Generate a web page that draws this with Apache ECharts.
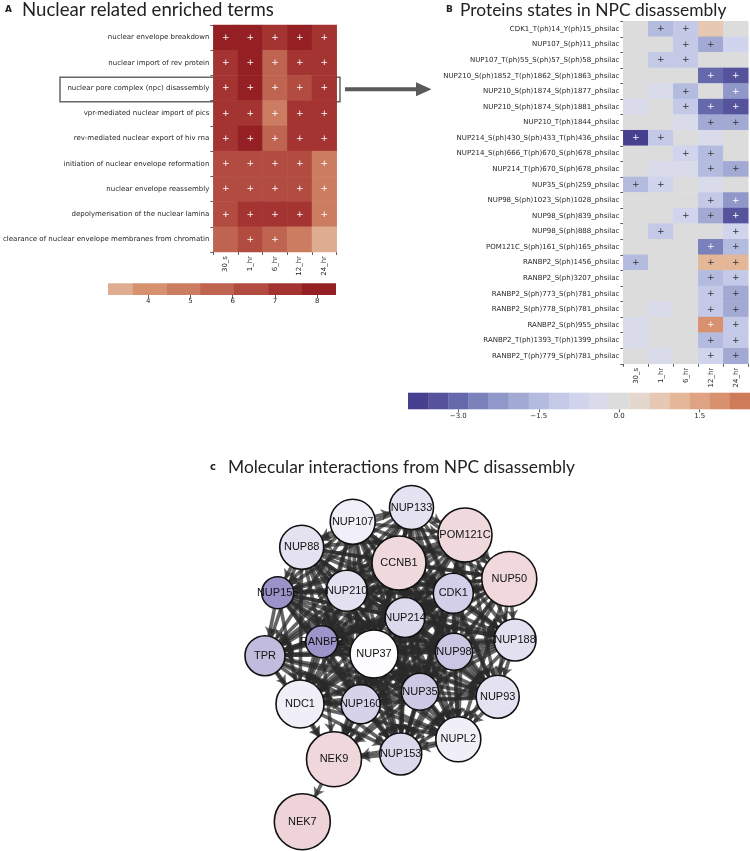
<!DOCTYPE html>
<html>
<head>
<meta charset="utf-8">
<title>npc disassembly</title>
<style>
    body {
        margin: 0;
        background-color: #fff;
    }
</style>
</head>
<body>
<div id="main" style="width: 750px;height:851px;"></div>
<script src="https://cdn.jsdelivr.net/npm/echarts@6/dist/echarts.min.js"></script>
<script>
    var myChart = echarts.init(document.getElementById('main'));

    var timePoints = ['30_s', '1_hr', '6_hr', '12_hr', '24_hr'];

    // panel A - enriched terms
    var termsA = [
        'nuclear envelope breakdown',
        'nuclear import of rev protein',
        'nuclear pore complex (npc) disassembly',
        'vpr-mediated nuclear import of pics',
        'rev-mediated nuclear export of hiv rna',
        'initiation of nuclear envelope reformation',
        'nuclear envelope reassembly',
        'depolymerisation of the nuclear lamina',
        'clearance of nuclear envelope membranes from chromatin'
    ];
    var scoreA = [
        [7.9, 7.9, 7.2, 8.1, 7.2],
        [7.2, 8.0, 5.6, 7.2, 7.2],
        [7.0, 8.0, 5.9, 6.4, 7.2],
        [7.0, 7.0, 4.9, 7.2, 7.2],
        [7.0, 8.0, 5.6, 7.2, 7.2],
        [6.4, 6.4, 6.4, 6.4, 4.9],
        [6.4, 6.4, 6.4, 6.4, 4.9],
        [6.4, 7.2, 7.2, 7.2, 4.9],
        [5.6, 6.4, 5.6, 4.9, 3.4]
    ];
    var plusA = [
        [1, 1, 1, 1, 1],
        [1, 1, 1, 1, 1],
        [1, 1, 1, 1, 1],
        [1, 1, 1, 1, 1],
        [1, 1, 1, 1, 1],
        [1, 1, 1, 1, 1],
        [1, 1, 1, 1, 1],
        [1, 1, 1, 1, 1],
        [0, 1, 1, 0, 0]
    ];
    var breaksA = [3.05, 3.63, 4.43, 5.23, 6.03, 6.84, 7.64, 8.44];
    var coloursA = ['#deac91', '#d6916f', '#cc7c60', '#be6450', '#b24b40', '#a43432', '#942024'];
    var ticksA = [4, 5, 6, 7, 8];

    // panel B - phosphosite states
    var sitesB = [
        'CDK1_T(ph)14_Y(ph)15_phsilac',
        'NUP107_S(ph)11_phsilac',
        'NUP107_T(ph)55_S(ph)57_S(ph)58_phsilac',
        'NUP210_S(ph)1852_T(ph)1862_S(ph)1863_phsilac',
        'NUP210_S(ph)1874_S(ph)1877_phsilac',
        'NUP210_S(ph)1874_S(ph)1881_phsilac',
        'NUP210_T(ph)1844_phsilac',
        'NUP214_S(ph)430_S(ph)433_T(ph)436_phsilac',
        'NUP214_S(ph)666_T(ph)670_S(ph)678_phsilac',
        'NUP214_T(ph)670_S(ph)678_phsilac',
        'NUP35_S(ph)259_phsilac',
        'NUP98_S(ph)1023_S(ph)1028_phsilac',
        'NUP98_S(ph)839_phsilac',
        'NUP98_S(ph)888_phsilac',
        'POM121C_S(ph)161_S(ph)165_phsilac',
        'RANBP2_S(ph)1456_phsilac',
        'RANBP2_S(ph)3207_phsilac',
        'RANBP2_S(ph)773_S(ph)781_phsilac',
        'RANBP2_S(ph)778_S(ph)781_phsilac',
        'RANBP2_S(ph)955_phsilac',
        'RANBP2_T(ph)1393_T(ph)1399_phsilac',
        'RANBP2_T(ph)779_S(ph)781_phsilac'
    ];
    var foldB = [
        [0, -1.5, -1.1, 0.75, 0],
        [0, 0, -1.1, -1.9, -0.75],
        [0, -1.1, -1.1, 0, 0],
        [0, 0, 0, -3.0, -3.4],
        [0, -0.4, -1.5, 0, -2.25],
        [-0.4, 0, -1.1, -3.0, -3.4],
        [0, 0, -0.4, -1.9, -1.9],
        [-3.75, -1.1, 0, -0.4, 0],
        [0, 0, -0.75, -1.5, 0],
        [0, -0.4, -0.4, -1.5, -1.9],
        [-1.5, -0.75, 0, -0.4, 0],
        [0, 0, 0, -1.1, -2.25],
        [0, 0, -0.75, -1.9, -3.4],
        [0, -1.1, 0, 0, -0.75],
        [0, 0, 0, -2.6, -1.5],
        [-1.5, 0, 0, 1.1, 1.1],
        [0, 0, 0, -1.5, -1.1],
        [0, 0, 0, -1.1, -1.9],
        [0, -0.4, 0, -1.1, -1.9],
        [-0.4, 0, 0, 1.9, -1.1],
        [-0.4, 0, 0, -1.5, -1.1],
        [0, -0.4, 0, -0.75, -1.9]
    ];
    var plusB = [
        [0, 1, 1, 0, 0],
        [0, 0, 1, 1, 0],
        [0, 1, 1, 0, 0],
        [0, 0, 0, 1, 1],
        [0, 0, 1, 0, 1],
        [0, 0, 1, 1, 1],
        [0, 0, 0, 1, 1],
        [1, 1, 0, 0, 0],
        [0, 0, 1, 1, 0],
        [0, 0, 0, 1, 1],
        [1, 1, 0, 0, 0],
        [0, 0, 0, 1, 1],
        [0, 0, 1, 1, 1],
        [0, 1, 0, 0, 1],
        [0, 0, 0, 1, 1],
        [1, 0, 0, 1, 1],
        [0, 0, 0, 1, 1],
        [0, 0, 0, 1, 1],
        [0, 0, 0, 1, 1],
        [0, 0, 0, 1, 1],
        [0, 0, 0, 1, 1],
        [0, 0, 0, 1, 1]
    ];
    var breaksB = [-3.9375, -3.5625, -3.1875, -2.8125, -2.4375, -2.0625, -1.6875, -1.3125, -0.9375,
        -0.5625, -0.1875, 0.1875, 0.5625, 0.9375, 1.3125, 1.6875, 2.0625, 2.4375];
    var coloursB = ['#473f8f', '#54539c', '#6568aa', '#7a81bb', '#8f98c9', '#a2aad4', '#b3bcdf', '#c3c9e6',
        '#d0d4ec', '#d9dbeb', '#dcdcdc', '#e4d7cd', '#e6c8b3', '#e4b799', '#dfa383', '#d8906f', '#cf7a58'];
    var ticksB = [-3, -1.5, 0, 1.5];

    // panel C - interaction network
    var proteins = ['NUP107', 'NUP133', 'POM121C', 'NUP88', 'CCNB1', 'NUP50', 'NUP155', 'NUP210', 'CDK1',
        'NUP214', 'NUP188', 'RANBP2', 'NUP37', 'NUP98', 'TPR', 'NUP35', 'NUP93', 'NDC1', 'NUP160',
        'NUPL2', 'NUP153', 'NEK9', 'NEK7'];
    var proteinXY = [
        [352.7, 521.7], [411.5, 507.5], [465, 535], [301.7, 547.3], [399, 563], [509.3, 579],
        [277.7, 592.7], [346.7, 590.7], [453.3, 593.3], [405, 617.5], [515, 640], [321.7, 641.7],
        [374, 654], [454, 651.7], [265, 655.7], [420, 691.7], [497.7, 696.7], [300, 704],
        [360.7, 704.3], [458.3, 739.3], [400.7, 754], [334, 759.3], [302.3, 821.7]
    ];
    var proteinSize = [45, 44, 54, 44, 54, 55, 32, 41, 40, 40, 42, 32, 48, 37, 40, 37, 43, 48, 39, 45, 42, 55, 56];
    var proteinColour = ['#f1f0f8', '#e5e3f1', '#f0d9dd', '#e4e2f0', '#f0d9dd', '#f0d8dc', '#9a92c9',
        '#e3e1f0', '#d3cfe8', '#dcd9ec', '#e3e1f0', '#9d95c9', '#fdfdff', '#cbc6e3', '#c1bcdd',
        '#cdc8e4', '#e4e2f0', '#f0eff7', '#d6d2e9', '#f0eff7', '#dcd9ec', '#efd7db', '#eed4d8'];
    var interactions = {
        NUP107: 'NUP133 POM121C NUP88 CCNB1 NUP50 NUP155 NUP210 CDK1 NUP214 NUP188 RANBP2 NUP37 NUP98 TPR NUP35 NUP93 NDC1 NUP160 NUPL2 NUP153',
        NUP133: 'POM121C NUP88 CCNB1 NUP50 NUP155 NUP210 CDK1 NUP214 NUP188 RANBP2 NUP37 NUP98 TPR NUP35 NUP93 NDC1 NUP160 NUPL2 NUP153',
        POM121C: 'NUP88 CCNB1 NUP50 NUP155 NUP210 CDK1 NUP214 NUP188 RANBP2 NUP37 NUP98 TPR NUP35 NUP93 NDC1 NUP160 NUPL2 NUP153',
        NUP88: 'CCNB1 NUP50 NUP155 NUP210 CDK1 NUP214 NUP188 RANBP2 NUP37 NUP98 TPR NUP35 NUP93 NDC1 NUP160 NUPL2 NUP153',
        CCNB1: 'NUP50 NUP155 NUP210 CDK1 NUP214 NUP188 RANBP2 NUP37 NUP98 TPR NUP35 NUP93 NDC1 NUP160 NUPL2 NUP153 NEK9',
        NUP50: 'NUP155 NUP210 CDK1 NUP214 NUP188 RANBP2 NUP37 NUP98 TPR NUP35 NUP93 NDC1 NUP160 NUPL2 NUP153',
        NUP155: 'NUP210 CDK1 NUP214 NUP188 RANBP2 NUP37 NUP98 TPR NUP35 NUP93 NDC1 NUP160 NUPL2 NUP153',
        NUP210: 'CDK1 NUP214 NUP188 RANBP2 NUP37 NUP98 TPR NUP35 NUP93 NDC1 NUP160 NUPL2 NUP153',
        CDK1: 'NUP214 NUP188 RANBP2 NUP37 NUP98 TPR NUP35 NUP93 NDC1 NUP160 NUPL2 NUP153 NEK9',
        NUP214: 'NUP188 RANBP2 NUP37 NUP98 TPR NUP35 NUP93 NDC1 NUP160 NUPL2 NUP153 NEK9',
        NUP188: 'RANBP2 NUP37 NUP98 TPR NUP35 NUP93 NDC1 NUP160 NUPL2 NUP153',
        RANBP2: 'NUP37 NUP98 TPR NUP35 NUP93 NDC1 NUP160 NUPL2 NUP153 NEK9',
        NUP37: 'NUP98 TPR NUP35 NUP93 NDC1 NUP160 NUPL2 NUP153 NEK9',
        NUP98: 'TPR NUP35 NUP93 NDC1 NUP160 NUPL2 NUP153 NEK9',
        TPR: 'NUP35 NUP93 NDC1 NUP160 NUPL2 NUP153 NEK9',
        NUP35: 'NUP93 NDC1 NUP160 NUPL2 NUP153 NEK9',
        NUP93: 'NDC1 NUP160 NUPL2 NUP153',
        NDC1: 'NUP160 NUPL2 NUP153 NEK9',
        NUP160: 'NUPL2 NUP153 NEK9',
        NUPL2: 'NUP153 NEK9',
        NUP153: 'NEK9',
        NEK9: 'NEK7'
    };

    var labelFont = 'DejaVu Sans';

    function heatData(values, plus, lightPlus) {
        var out = [];
        values.forEach(function (row, i) {
            row.forEach(function (v, j) {
                out.push({
                    value: [j, i, v],
                    label: {
                        show: plus[i][j] === 1,
                        color: lightPlus(v) ? '#ffffff' : '#333333'
                    }
                });
            });
        });
        return out;
    }

    function barData(breaks, colours) {
        return colours.map(function (c, i) {
            return { value: [breaks[i], breaks[i + 1]], itemStyle: { color: c } };
        });
    }

    function pieces(breaks, colours) {
        return colours.map(function (c, i) {
            return { gte: breaks[i], lt: breaks[i + 1], color: c };
        });
    }

    function renderPiece(params, api) {
        var p0 = api.coord([api.value(0), 1]);
        var p1 = api.coord([api.value(1), 0]);
        return {
            type: 'rect',
            shape: { x: p0[0], y: p0[1], width: p1[0] - p0[0] + 0.3, height: p1[1] - p0[1] },
            style: { fill: api.visual('color') }
        };
    }

    var nodes = proteins.map(function (p, i) {
        return {
            name: p,
            value: proteinXY[i],
            symbolSize: proteinSize[i],
            itemStyle: { color: proteinColour[i] }
        };
    });
    var links = [];
    Object.keys(interactions).forEach(function (src) {
        interactions[src].split(' ').forEach(function (tgt) {
            links.push({ source: src, target: tgt });
        });
    });

    var catAxis = function (grid, data, isY, extra) {
        var ax = {
            type: 'category',
            gridIndex: grid,
            data: data,
            axisLine: { show: false },
            axisTick: { show: true, length: 3, lineStyle: { color: '#333', width: 0.8 } },
            axisLabel: { fontFamily: labelFont, fontSize: 7, color: '#262626', margin: 4 },
            splitLine: { show: false }
        };
        if (isY) {
            ax.inverse = true;
        } else {
            ax.position = 'bottom';
            ax.axisLabel.rotate = 90;
        }
        return Object.assign(ax, extra || {});
    };

    var barAxis = function (grid, min, max, ticks, fmt) {
        return {
            type: 'value',
            gridIndex: grid,
            min: min,
            max: max,
            axisLine: { show: false },
            splitLine: { show: false },
            axisTick: { show: true, length: 3, customValues: ticks, lineStyle: { color: '#333', width: 0.8 } },
            axisLabel: { customValues: ticks, fontFamily: labelFont, fontSize: 7, color: '#262626', margin: 3, formatter: fmt }
        };
    };

    var hiddenY = function (grid) {
        return { type: 'value', gridIndex: grid, min: 0, max: 1, show: false };
    };

    option = {
        backgroundColor: '#ffffff',
        animation: false,
        grid: [
            { left: 211.7, top: 25, width: 125, height: 227 },
            { left: 108, top: 283.3, width: 227.7, height: 11.7 },
            { left: 623.3, top: 21.2, width: 125, height: 342.6 },
            { left: 408, top: 392.7, width: 352.7, height: 16.6 },
            { left: 265, top: 507.5, width: 250, height: 314.2 }
        ],
        xAxis: [
            catAxis(0, timePoints, false),
            barAxis(1, breaksA[0], breaksA[breaksA.length - 1], ticksA, function (v) { return String(v); }),
            catAxis(2, timePoints, false),
            barAxis(3, breaksB[0], breaksB[breaksB.length - 1], ticksB, function (v) {
                return (v < 0 ? '\u2212' : '') + Math.abs(v).toFixed(1);
            }),
            { type: 'value', gridIndex: 4, min: 265, max: 515, show: false }
        ],
        yAxis: [
            catAxis(0, termsA, true),
            hiddenY(1),
            catAxis(2, sitesB, true, {}),
            hiddenY(3),
            { type: 'value', gridIndex: 4, min: 507.5, max: 821.7, inverse: true, show: false }
        ],
        visualMap: [
            { type: 'piecewise', show: false, seriesIndex: 0, dimension: 2, pieces: pieces(breaksA, coloursA) },
            { type: 'piecewise', show: false, seriesIndex: 2, dimension: 2, pieces: pieces(breaksB, coloursB) }
        ],
        series: [
            {
                type: 'heatmap',
                xAxisIndex: 0,
                yAxisIndex: 0,
                data: heatData(scoreA, plusA, function () { return true; }),
                label: { formatter: '+', fontFamily: labelFont, fontSize: 9 },
                emphasis: { disabled: true }
            },
            {
                type: 'custom',
                xAxisIndex: 1,
                yAxisIndex: 1,
                renderItem: renderPiece,
                data: barData(breaksA, coloursA)
            },
            {
                type: 'heatmap',
                xAxisIndex: 2,
                yAxisIndex: 2,
                data: heatData(foldB, plusB, function (v) { return v <= -2 || v >= 1.8; }),
                label: { formatter: '+', fontFamily: labelFont, fontSize: 9 },
                emphasis: { disabled: true }
            },
            {
                type: 'custom',
                xAxisIndex: 3,
                yAxisIndex: 3,
                renderItem: renderPiece,
                data: barData(breaksB, coloursB)
            },
            {
                type: 'graph',
                coordinateSystem: 'cartesian2d',
                xAxisIndex: 4,
                yAxisIndex: 4,
                layout: 'none',
                symbol: 'circle',
                data: nodes,
                links: links,
                edgeSymbol: ['none', 'arrow'],
                edgeSymbolSize: 9,
                itemStyle: { borderColor: '#111', borderWidth: 1.6 },
                lineStyle: { color: '#2a2a2a', width: 3.6, opacity: 0.72, curveness: 0 },
                label: {
                    show: true,
                    position: 'inside',
                    fontFamily: 'Liberation Sans',
                    fontSize: 11,
                    color: '#111'
                },
                emphasis: { disabled: true }
            }
        ],
        graphic: [
            { type: 'text', x: 5, y: 10, style: { text: 'A', font: 'bold 9px "DejaVu Sans"', fill: '#222', textVerticalAlign: 'middle' } },
            { type: 'text', x: 22, y: 10, style: { text: 'Nuclear related enriched terms', font: '18.6px Lato', fill: '#222', textVerticalAlign: 'middle' } },
            { type: 'text', x: 446, y: 10, style: { text: 'B', font: 'bold 9px "DejaVu Sans"', fill: '#222', textVerticalAlign: 'middle' } },
            { type: 'text', x: 460, y: 10, style: { text: 'Proteins states in NPC disassembly', font: '17.4px Lato', fill: '#222', textVerticalAlign: 'middle' } },
            { type: 'text', x: 210, y: 467, style: { text: 'c', font: 'bold 10px "DejaVu Sans"', fill: '#222', textVerticalAlign: 'middle' } },
            { type: 'text', x: 228, y: 467, style: { text: 'Molecular interactions from NPC disassembly', font: '17.4px Lato', fill: '#222', textVerticalAlign: 'middle' } },
            { type: 'rect', shape: { x: 60, y: 77.3, width: 280, height: 24.4 }, style: { fill: 'none', stroke: '#666', lineWidth: 1.5 } },
            { type: 'line', shape: { x1: 345, y1: 89.3, x2: 418, y2: 89.3 }, style: { stroke: '#5a5a5a', lineWidth: 4 } },
            { type: 'polygon', shape: { points: [[416, 82.3], [431.5, 89.3], [416, 96.3]] }, style: { fill: '#5a5a5a' } }
        ]
    };

    myChart.setOption(option);
</script>
</body>
</html>
